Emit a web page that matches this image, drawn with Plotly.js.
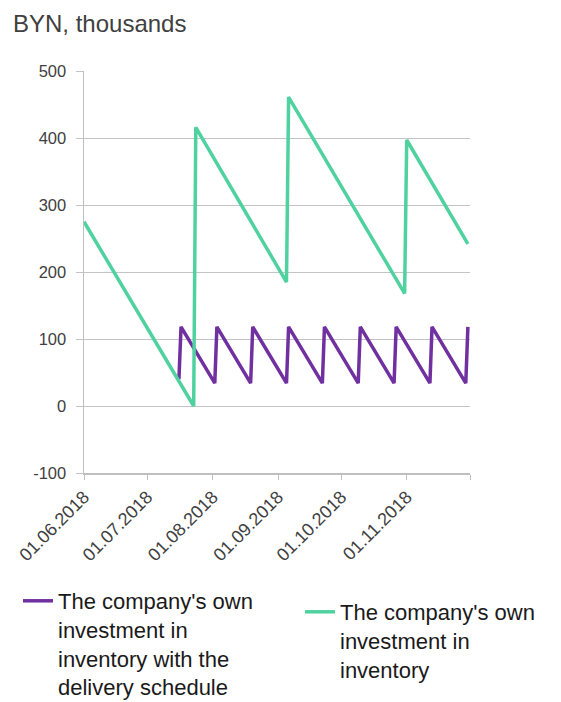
<!DOCTYPE html>
<html>
<head>
<meta charset="utf-8">
<script src="https://cdn.plot.ly/plotly-3.0.1.min.js"></script>
<style>html,body{margin:0;padding:0;background:#fff;}#chart{width:561px;height:702px;}</style>
</head>
<body>
<div id="chart"></div>
<script>
// Series 1: own investment in inventory with the delivery schedule (purple)
const scheduleDates = ['2018-07-16','2018-07-17','2018-08-02','2018-08-03','2018-08-19','2018-08-20',
  '2018-09-05','2018-09-06','2018-09-22','2018-09-23','2018-10-09','2018-10-10','2018-10-26','2018-10-27',
  '2018-11-12','2018-11-13','2018-11-29','2018-11-30'];
const scheduleValues = [40,118,34,118,34,118,34,118,34,118,34,118,34,118,34,118,34,118];

// Series 2: own investment in inventory (green)
const inventoryDates = ['2018-06-01','2018-07-23','2018-07-24','2018-09-05','2018-09-06','2018-10-31','2018-11-01','2018-11-30'];
const inventoryValues = [275,0,416,185,461,168,397,242];

// Axis ticks
const xTickVals = ['2018-06-01','2018-07-01','2018-08-01','2018-09-01','2018-10-01','2018-11-01','2018-12-01'];
const xTickText = ['01.06.2018','01.07.2018','01.08.2018','01.09.2018','01.10.2018','01.11.2018',''];
const yTickVals = [-100,0,100,200,300,400,500];
const yTickText = ['-100','0','100','200','300','400','500'];

const seriesNames = [
  "The company's own<br>investment in<br>inventory with the<br>delivery schedule",
  "The company's own<br>investment in<br>inventory"
];

const traces = [
  {x: scheduleDates, y: scheduleValues, type: 'scatter', mode: 'lines', name: seriesNames[0],
   line: {color: '#7030a0', width: 3.5}, legend: 'legend'},
  {x: inventoryDates, y: inventoryValues, type: 'scatter', mode: 'lines', name: seriesNames[1],
   line: {color: '#50d2a0', width: 3.5}, legend: 'legend2'}
];

const font = 'Liberation Sans, Arial, sans-serif';
const legendFont = {family: font, size: 22, color: '#1a1a1a'};
const layout = {
  width: 561, height: 702,
  margin: {l: 84, r: 91, t: 71, b: 229, autoexpand: false},
  paper_bgcolor: '#fff', plot_bgcolor: '#fff',
  font: {family: font, color: '#404040'},
  title: {text: 'BYN, thousands', x: 13/561, xanchor: 'left', xref: 'container',
          y: 1 - 24/702, yanchor: 'middle', yref: 'container',
          font: {family: font, size: 24, color: '#404040'}},
  xaxis: {type: 'date', range: ['2018-06-01','2018-12-01'], automargin: false,
          tickvals: xTickVals, ticktext: xTickText, tickangle: -45,
          showgrid: false, zeroline: false, showline: true, linecolor: '#bfbfbf', linewidth: 1.5,
          ticks: 'outside', ticklen: 5, tickcolor: '#bfbfbf',
          tickfont: {family: font, size: 18, color: '#404040'}},
  yaxis: {range: [-100, 500], tickvals: yTickVals, ticktext: yTickText, automargin: false,
          showgrid: true, gridcolor: '#c4c4c4', gridwidth: 1,
          zeroline: false, showline: true, linecolor: '#bfbfbf', linewidth: 1.5,
          ticks: 'outside', ticklen: 7, tickcolor: '#c4c4c4', ticklabelstandoff: 6,
          tickfont: {family: font, size: 16.5, color: '#404040'}},
  showlegend: true,
  legend: {xref: 'container', yref: 'container', x: 18/561, y: 1 - 580/702,
           xanchor: 'left', yanchor: 'top', valign: 'top',
           font: legendFont, bgcolor: 'rgba(0,0,0,0)'},
  legend2: {xref: 'container', yref: 'container', x: 300/561, y: 1 - 591/702,
           xanchor: 'left', yanchor: 'top', valign: 'top',
           font: legendFont, bgcolor: 'rgba(0,0,0,0)'}
};

Plotly.newPlot('chart', traces, layout, {displayModeBar: false, staticPlot: true});
</script>
</body>
</html>
